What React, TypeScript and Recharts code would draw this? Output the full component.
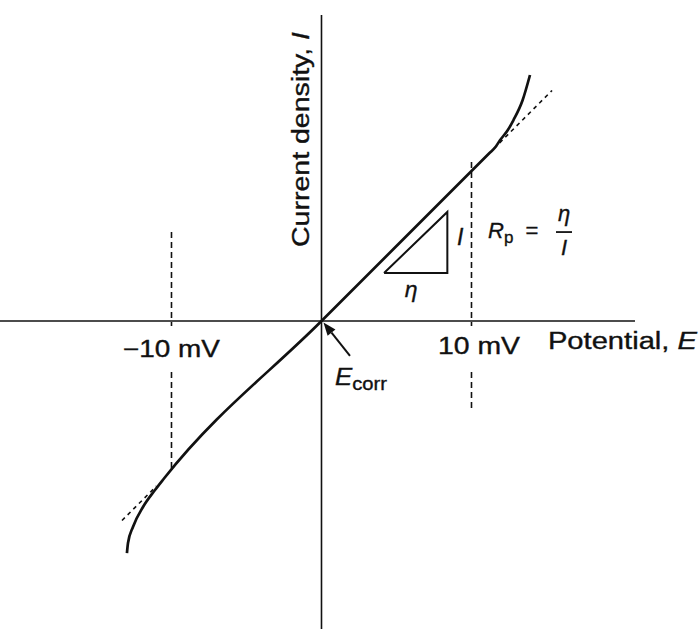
import { ComposedChart, XAxis, YAxis, Line, ReferenceLine, ReferenceDot } from 'recharts';

// Polarization curve around the corrosion potential (E in mV, I in matching units)
const potential = [-12.97, -12.9, -12.57, -11.9, -11.1, -10.5, 0, 10.5, 11.2, 11.6, 11.9, 12.4, 12.8, 13.4, 13.9];
const current = [-15.47, -14.8, -13.73, -12.4, -11.27, -10.5, 0, 10.5, 11.2, 11.6, 12.05, 12.7, 13.4, 14.7, 16.4];

// Linear (Stern–Geary) tangent extended past the curve ends
const tangentUpperE = [11.5, 15.37];
const tangentLowerE = [-13.3, -11];

// Slope triangle: base = η, height = I
const triangleE = [4.17, 8.39, 8.39, 4.17];
const triangleI = [3.2, 3.2, 7.27, 3.2];

// ±10 mV guide lines and their labels (the dashes break around the label)
const markE = [-10, 10];
const markTop = [5.93, 10.6];
const markBottom = [-9.93, -6.07];
const markGap = [-0.33, -3.4];
const markLabels = ['\u221210 mV', '10 mV'];
const markLabelE = [-10, 10.5];
const markLabelI = [-2.4, -2.23];
const markLabelWidth = [97, 82];

const xDomain = [-21.433, 25.167];
const yDomain = [-20.533, 21.4];
const xAxisEnd = 20.9;
const yAxisTop = 20.4;

const curveData = potential.map((e, k) => ({ e, i: current[k] }));
const upperTangent = tangentUpperE.map((e) => ({ e, i: e }));
const lowerTangent = tangentLowerE.map((e) => ({ e, i: e }));
const triangleData = triangleE.map((e, k) => ({ e, i: triangleI[k] }));

const INK = '#111';
const FONT = '"Liberation Sans", Arial, Helvetica, sans-serif';
const SIZE = 23;

const txt = {
  fill: INK,
  stroke: INK,
  strokeWidth: 0.35,
  fontFamily: FONT,
  fontSize: SIZE,
  lengthAdjust: 'spacingAndGlyphs',
} as const;

// arrow pointing at E_corr
const ArrowShape = (p: any) => {
  const { x1, y1, x2, y2 } = p;
  const dx = x2 - x1;
  const dy = y2 - y1;
  const len = Math.hypot(dx, dy);
  const ux = dx / len;
  const uy = dy / len;
  const head = 13;
  const half = 5;
  const bx = x2 - ux * head;
  const by = y2 - uy * head;
  return (
    <g>
      <line x1={x1} y1={y1} x2={bx} y2={by} stroke={INK} strokeWidth={2} />
      <polygon
        points={`${x2},${y2} ${bx - uy * half},${by + ux * half} ${bx + uy * half},${by - ux * half}`}
        fill={INK}
      />
    </g>
  );
};

const App = () => {
  return (
    <div style={{ position: 'absolute', left: 0, top: 0, background: '#fff' }}>
      <ComposedChart width={699} height={629} margin={{ top: 0, right: 0, bottom: 0, left: 0 }}>
        <XAxis type="number" dataKey="e" domain={xDomain} allowDataOverflow hide />
        <YAxis type="number" dataKey="i" domain={yDomain} allowDataOverflow hide />

        {/* axes through the origin */}
        <ReferenceLine
          segment={[{ x: xDomain[0], y: 0 }, { x: xAxisEnd, y: 0 }]}
          stroke={INK}
          strokeWidth={1.6}
          ifOverflow="visible"
        />
        <ReferenceLine
          segment={[{ x: 0, y: yAxisTop }, { x: 0, y: yDomain[0] }]}
          stroke={INK}
          strokeWidth={1.6}
          ifOverflow="visible"
        />

        {markE.map((e, k) => (
          <ReferenceLine
            key={`mark-up-${k}`}
            segment={[{ x: e, y: markTop[k] }, { x: e, y: markGap[0] }]}
            stroke={INK}
            strokeWidth={1.6}
            strokeDasharray="6 4"
            ifOverflow="visible"
          />
        ))}
        {markE.map((e, k) => (
          <ReferenceLine
            key={`mark-down-${k}`}
            segment={[{ x: e, y: markGap[1] }, { x: e, y: markBottom[k] }]}
            stroke={INK}
            strokeWidth={1.6}
            strokeDasharray="6 4"
            ifOverflow="visible"
          />
        ))}

        <Line data={upperTangent} dataKey="i" type="linear" stroke={INK} strokeWidth={1.6} strokeDasharray="4 4" dot={false} activeDot={false} isAnimationActive={false} />
        <Line data={lowerTangent} dataKey="i" type="linear" stroke={INK} strokeWidth={1.6} strokeDasharray="4 4" dot={false} activeDot={false} isAnimationActive={false} />
        <Line data={curveData} dataKey="i" type="monotone" stroke={INK} strokeWidth={2.7} dot={false} activeDot={false} isAnimationActive={false} />
        <Line data={triangleData} dataKey="i" type="linear" stroke={INK} strokeWidth={2} dot={false} activeDot={false} isAnimationActive={false} />

        <ReferenceLine
          segment={[{ x: 1.9, y: -2.33 }, { x: 0.13, y: -0.1 }]}
          ifOverflow="visible"
          shape={ArrowShape}
        />

        {/* text annotations anchored in data space */}
        <ReferenceDot
          x={-0.83}
          y={12.1}
          r={0}
          ifOverflow="visible"
          shape={(p: any) => (
            <text {...txt} x={p.cx} y={p.cy} textAnchor="middle" textLength={215} transform={`rotate(-90 ${p.cx} ${p.cy})`}>
              Current density, <tspan fontStyle="italic">I</tspan>
            </text>
          )}
        />
        {markE.map((e, k) => (
          <ReferenceDot
            key={`ml-${k}`}
            x={markLabelE[k]}
            y={markLabelI[k]}
            r={0}
            ifOverflow="visible"
            shape={(p: any) => (
              <text {...txt} x={p.cx} y={p.cy} textAnchor="middle" textLength={markLabelWidth[k]}>
                {markLabels[k]}
              </text>
            )}
          />
        ))}
        <ReferenceDot
          x={25.03}
          y={-1.87}
          r={0}
          ifOverflow="visible"
          shape={(p: any) => (
            <text {...txt} x={p.cx} y={p.cy} textAnchor="end" textLength={149}>
              Potential, <tspan fontStyle="italic">E</tspan>
            </text>
          )}
        />
        <ReferenceDot
          x={0.9}
          y={-4.27}
          r={0}
          ifOverflow="visible"
          shape={(p: any) => (
            <text {...txt} x={p.cx} y={p.cy} textLength={52}>
              <tspan fontStyle="italic">E</tspan>
              <tspan fontSize={18} dy={5}>corr</tspan>
            </text>
          )}
        />
        <ReferenceDot
          x={9.03}
          y={5.07}
          r={0}
          ifOverflow="visible"
          shape={(p: any) => (
            <text {...txt} x={p.cx} y={p.cy} fontStyle="italic">
              I
            </text>
          )}
        />
        <ReferenceDot
          x={5.97}
          y={1.6}
          r={0}
          ifOverflow="visible"
          shape={(p: any) => (
            <text {...txt} x={p.cx} y={p.cy} textAnchor="middle" fontStyle="italic">
              η
            </text>
          )}
        />
        <ReferenceDot
          x={11.1}
          y={5.53}
          r={0}
          ifOverflow="visible"
          shape={(p: any) => (
            <g>
              <text {...txt} x={p.cx} y={p.cy} fontSize={22}>
                <tspan fontStyle="italic">R</tspan>
                <tspan fontSize={17} dy={5}>p</tspan>
              </text>
              <text {...txt} x={p.cx + 44} y={p.cy} textAnchor="middle" fontSize={22}>
                =
              </text>
              <text {...txt} x={p.cx + 76} y={p.cy - 17} textAnchor="middle" fontStyle="italic" fontSize={22}>
                η
              </text>
              <line x1={p.cx + 68} y1={p.cy - 6} x2={p.cx + 84} y2={p.cy - 6} stroke={INK} strokeWidth={1.8} />
              <text {...txt} x={p.cx + 76} y={p.cy + 17} textAnchor="middle" fontStyle="italic" fontSize={22}>
                I
              </text>
            </g>
          )}
        />
      </ComposedChart>
    </div>
  );
};

export default App;
